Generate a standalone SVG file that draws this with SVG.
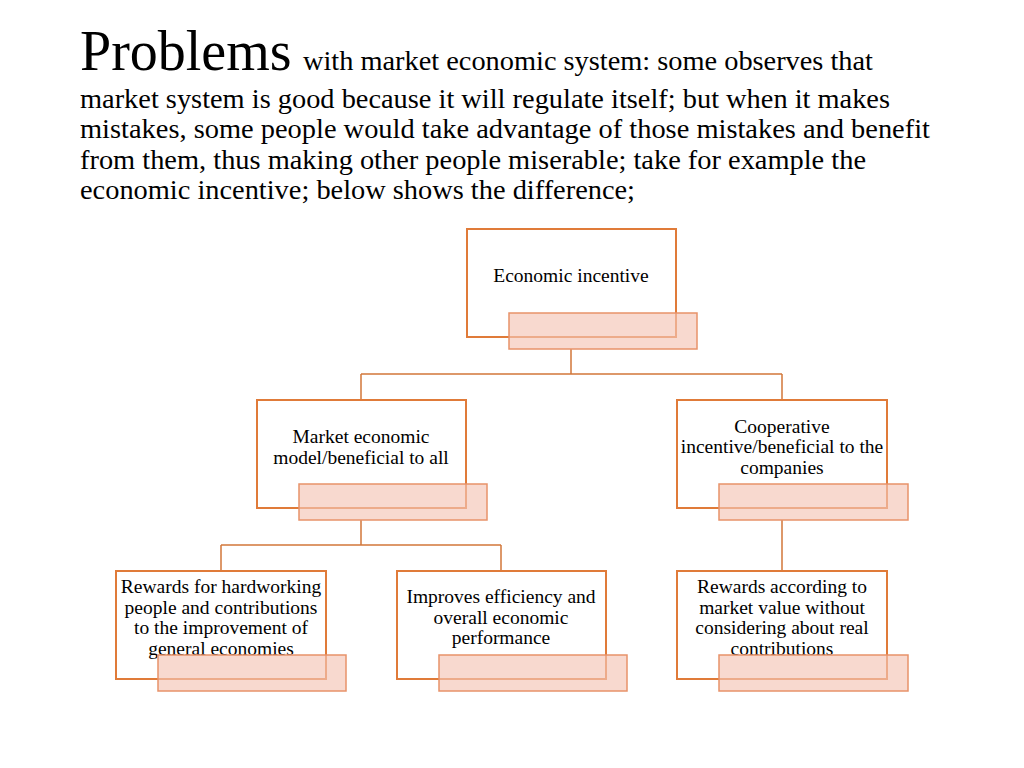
<svg xmlns="http://www.w3.org/2000/svg" width="1024" height="768" viewBox="0 0 1024 768">
<style>
.t{font-family:"Liberation Serif",serif;fill:#000}
.b{fill:#fff;stroke:#E07B39;stroke-width:2}
.p{fill:#F5C4B5;fill-opacity:0.65;stroke:#E8926A;stroke-width:1.5}
.n{font-family:"Liberation Serif",serif;font-size:19.5px;text-anchor:middle;fill:#000}
.c{fill:none;stroke:#D2773A;stroke-width:1.5}
</style>
<rect width="1024" height="768" fill="#fff"/>
<text class="t" x="80" y="70" font-size="56">Problems</text>
<text class="t" font-size="27.5" x="303" y="70" textLength="570" lengthAdjust="spacingAndGlyphs">with market economic system: some observes that</text>
<text class="t" font-size="27.5" x="80" y="108" textLength="810" lengthAdjust="spacingAndGlyphs">market system is good because it will regulate itself; but when it makes</text>
<text class="t" font-size="27.5" x="80" y="138" textLength="850" lengthAdjust="spacingAndGlyphs">mistakes, some people would take advantage of those mistakes and benefit</text>
<text class="t" font-size="27.5" x="80" y="169" textLength="786" lengthAdjust="spacingAndGlyphs">from them, thus making other people miserable; take for example the</text>
<text class="t" font-size="27.5" x="80" y="199" textLength="555" lengthAdjust="spacingAndGlyphs">economic incentive; below shows the difference;</text>
<g id="connectors">
<path class="c" d="M571 349V374M361 374H782M361 374V400M782 374V400M361 520V545M221 545H501M221 545V571M501 545V571M782 520V571"/>
</g>
<g id="n0"><rect class="b" x="467" y="229" width="209" height="108"/><rect class="p" x="509" y="313" width="188" height="36"/><text class="n" x="571" y="282">Economic incentive</text></g>
<g id="n1"><rect class="b" x="257" y="400" width="209" height="108"/><rect class="p" x="299" y="484" width="188" height="36"/><text class="n" x="361" y="443">Market economic</text><text class="n" x="361" y="464">model/beneficial to all</text></g>
<g id="n2"><rect class="b" x="677" y="400" width="210" height="108"/><rect class="p" x="719" y="484" width="189" height="36"/><text class="n" x="782" y="433">Cooperative</text><text class="n" x="782" y="453">incentive/beneficial to the</text><text class="n" x="782" y="474">companies</text></g>
<g id="n3"><rect class="b" x="116" y="571" width="210" height="108"/><text class="n" x="221" y="593">Rewards for hardworking</text><text class="n" x="221" y="614">people and contributions</text><text class="n" x="221" y="634">to the improvement of</text><text class="n" x="221" y="655">general economies</text><rect class="p" x="158" y="655" width="188" height="36"/></g>
<g id="n4"><rect class="b" x="397" y="571" width="209" height="108"/><text class="n" x="501" y="603">Improves efficiency and</text><text class="n" x="501" y="624">overall economic</text><text class="n" x="501" y="644">performance</text><rect class="p" x="439" y="655" width="188" height="36"/></g>
<g id="n5"><rect class="b" x="677" y="571" width="210" height="108"/><text class="n" x="782" y="593">Rewards according to</text><text class="n" x="782" y="614">market value without</text><text class="n" x="782" y="634">considering about real</text><text class="n" x="782" y="655">contributions</text><rect class="p" x="719" y="655" width="189" height="36"/></g>
</svg>
